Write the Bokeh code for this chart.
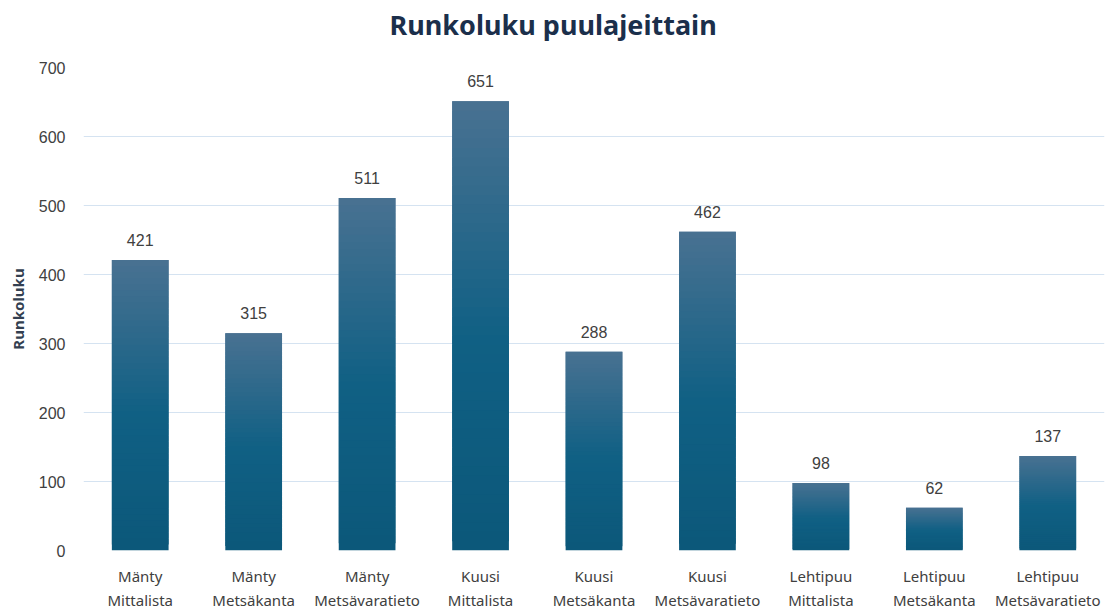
from bokeh.plotting import figure
from bokeh.models import ColumnDataSource, FixedTicker, LinearAxis, Title
from bokeh.embed import file_html
from bokeh.resources import INLINE
from bokeh.core.properties import value

categories = [
    "Mänty\nMittalista", "Mänty\nMetsäkanta", "Mänty\nMetsävaratieto",
    "Kuusi\nMittalista", "Kuusi\nMetsäkanta", "Kuusi\nMetsävaratieto",
    "Lehtipuu\nMittalista", "Lehtipuu\nMetsäkanta", "Lehtipuu\nMetsävaratieto",
]
values = [421, 315, 511, 651, 288, 462, 98, 62, 137]
y_ticks = [0, 100, 200, 300, 400, 500, 600, 700]

TOP = (0x4B, 0x72, 0x92)
MID = (0x10, 0x60, 0x84)
BOT = (0x0C, 0x58, 0x7A)


def grad(f):
    # f = relative height within bar (0 bottom, 1 top)
    if f >= 0.45:
        t = (f - 0.45) / 0.55
        a, b = MID, TOP
    else:
        t = f / 0.45
        a, b = BOT, MID
    c = [round(a[i] + (b[i] - a[i]) * t) for i in range(3)]
    return "#%02x%02x%02x" % tuple(c)


# gradient: slices overlapping their upper neighbour, drawn top-down so seams are hidden
N = 48
xs, bottoms, tops, colors = [], [], [], []
for i in range(N - 1, -1, -1):
    for cat, v in zip(categories, values):
        xs.append(cat)
        bottoms.append(v * i / N)
        tops.append(v * min(i + 2, N) / N)
        colors.append(grad((i + 0.5) / N))

seg = ColumnDataSource(dict(x=xs, bottom=bottoms, top=tops, color=colors))
lab = ColumnDataSource(dict(x=categories, y=values, t=[str(v) for v in values]))

p = figure(
    x_range=categories, y_range=(0, 700),
    frame_width=1021, frame_height=483,
    output_backend="svg", toolbar_location=None,
    min_border_left=0, min_border_right=1, min_border_top=0, min_border_bottom=0,
    title="Runkoluku puulajeittain",
)
p.outline_line_color = None
p.background_fill_color = "white"
p.border_fill_color = "white"

p.title.align = "left"
p.title.offset = 306
p.title.text_font = "Noto Sans"
p.title.text_font_size = "27px"
p.title.text_font_style = "bold"
p.title.text_color = "#1B2F4B"
p.title.standoff = 6

# empty spacer between title and plot area
p.add_layout(Title(text=" ", text_font_size="1px", standoff=19), "above")

p.vbar(x="x", bottom="bottom", top="top", width=0.5, source=seg,
       fill_color="color", line_color=None)

p.text(x="x", y="y", text="t", source=lab, text_align="center",
       text_baseline="bottom", y_offset=-14,
       text_font=value("Liberation Sans"), text_font_size="16px",
       text_color="#404040")

p.xgrid.grid_line_color = None
p.ygrid.grid_line_color = "#D5E3F1"
p.ygrid.grid_line_width = 1
p.yaxis.ticker = FixedTicker(ticks=y_ticks)

for ax in (p.xaxis[0], p.yaxis[0]):
    ax.axis_line_color = None
    ax.major_tick_line_color = None
    ax.minor_tick_line_color = None
    ax.major_tick_out = 0
    ax.major_tick_in = 0

p.yaxis.major_label_text_font = "Liberation Sans"
p.yaxis.major_label_text_font_size = "16px"
p.yaxis.major_label_text_color = "#404040"
p.yaxis.major_label_standoff = 18
p.yaxis.axis_label = "Runkoluku"
p.yaxis.axis_label_text_font = "Noto Sans"
p.yaxis.axis_label_text_font_style = "bold"
p.yaxis.axis_label_text_font_size = "15px"
p.yaxis.axis_label_text_color = "#333F50"
p.yaxis.axis_label_standoff = 8

# empty spacer axis on the far left
spacer = LinearAxis(ticker=FixedTicker(ticks=[]), axis_line_color=None,
                    major_tick_out=0, major_tick_in=0, minor_tick_out=0,
                    major_label_standoff=0, major_label_text_font_size="0px",
                    axis_label=" ", axis_label_text_font_size="1px",
                    axis_label_standoff=0)
p.add_layout(spacer, "left")

p.xaxis.major_label_text_font = "Noto Sans"
p.xaxis.major_label_text_font_size = "15px"
p.xaxis.major_label_text_color = "#404040"
p.xaxis.major_label_standoff = 15
p.x_range.range_padding = 0

open("out.html", "w").write(file_html(p, INLINE))
